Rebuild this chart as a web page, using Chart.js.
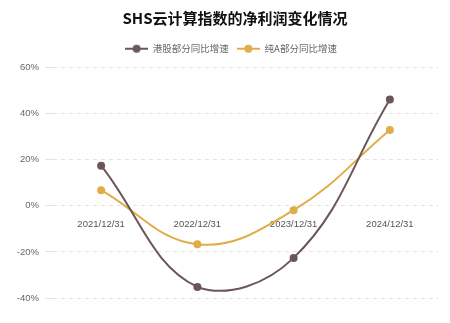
<!DOCTYPE html>
<html><head><meta charset="utf-8">
<script src="https://cdn.jsdelivr.net/npm/chart.js@4"></script>
<style>html,body{margin:0;padding:0;background:#fff}#wrap{width:450px;height:323px}</style>
</head><body><div id="wrap"><canvas id="c" width="450" height="323"></canvas></div>
<script>
const categories = ['2021/12/31','2022/12/31','2023/12/31','2024/12/31'];
const hkGrowth = [17.4, -35.2, -22.6, 46.1];
const aGrowth = [6.8, -16.7, -1.9, 32.9];
const seriesNames = ['港股部分同比增速','纯A部分同比增速'];
const colors = ['#6b5757','#e0ad48'];
const titleText = 'SHS云计算指数的净利润变化情况';

function icon(color){
  const c=document.createElement('canvas');c.width=23;c.height=10;
  const g=c.getContext('2d');
  g.strokeStyle=color;g.lineWidth=2;g.beginPath();g.moveTo(0,5);g.lineTo(23,5);g.stroke();
  g.fillStyle=color;g.beginPath();g.arc(11.5,5,4,0,Math.PI*2);g.fill();
  return c;
}
const icons = colors.map(icon);
const tickFont = {family:'"Liberation Sans"',size:9.5};

const shiftHeader = {id:'shiftHeader', afterLayout(chart){
  const t=chart.titleBlock; if(t){t.left+=16;t.right+=16;}
  const l=chart.legend; if(l){l.left+=12;l.right+=12;}
}};

new Chart(document.getElementById('c'),{
  type:'line',
  data:{labels:categories,datasets:[
    {label:seriesNames[0],data:hkGrowth,borderColor:colors[0],backgroundColor:colors[0],borderWidth:2,tension:0.4,pointRadius:4,pointBackgroundColor:colors[0],pointBorderWidth:0},
    {label:seriesNames[1],data:aGrowth,borderColor:colors[1],backgroundColor:colors[1],borderWidth:2,tension:0.4,pointRadius:4,pointBackgroundColor:colors[1],pointBorderWidth:0}
  ]},
  plugins:[shiftHeader],
  options:{
    responsive:false,animation:false,
    layout:{padding:{left:0,right:12,top:5,bottom:25}},
    plugins:{
      title:{display:true,text:titleText,color:'#111',font:{family:'"Noto Sans CJK SC"',size:15,weight:'bold'},padding:{top:4,bottom:9}},
      legend:{display:true,labels:{usePointStyle:true,pointStyleWidth:23,color:'#666',font:{family:'"Noto Sans CJK SC"',size:9.5},padding:8,
        generateLabels:(chart)=>chart.data.datasets.map((d,i)=>({text:d.label,pointStyle:icons[i],fillStyle:colors[i],strokeStyle:colors[i],lineWidth:0,datasetIndex:i,fontColor:'#666'}))}},
      tooltip:{enabled:false}
    },
    scales:{
      x:{position:{y:0},offset:true,grid:{display:false},border:{display:false},ticks:{color:'#555',font:tickFont,padding:5,maxRotation:0}},
      xTopGap:{type:'category',position:'top',offset:true,grid:{display:false},border:{display:false},ticks:{display:false},afterFit:s=>{s.height=4;}},
      y:{min:-40,max:60,ticks:{stepSize:20,color:'#666',font:tickFont,padding:6,callback:v=>v+'%'},
        grid:{color:'#e3e3e3',lineWidth:1},border:{display:false,dash:[4,4]},
        afterFit:s=>{s.width=53;}}
    }
  }
});
</script></body></html>
